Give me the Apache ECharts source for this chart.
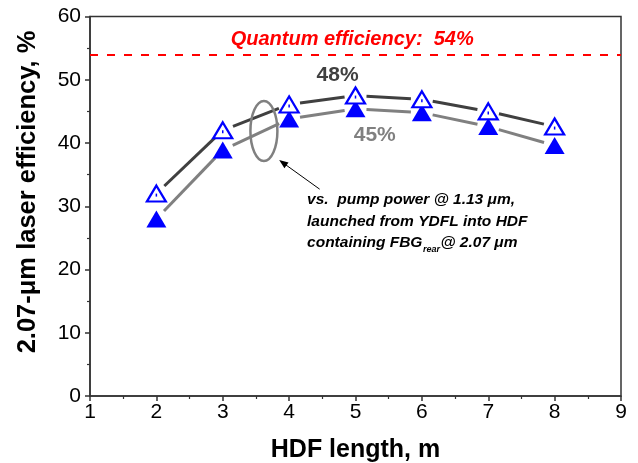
<!DOCTYPE html>
<html>
<head>
<meta charset="utf-8">
<script src="https://cdn.jsdelivr.net/npm/echarts@6/dist/echarts.min.js"></script>
<style>
  html, body { margin: 0; padding: 0; background: #fff; }
  #chart { width: 638px; height: 463px; }
</style>
</head>
<body>
<div id="chart"></div>
<script>
// HDF length (m) and 2.07-um laser efficiency (%) for the two pump definitions
const hdfLength = [2, 3, 4, 5, 6, 7, 8];
const effUpper = [32.0, 42.0, 46.1, 47.5, 46.9, 45.0, 42.6];
const effLower = [28.0, 38.9, 43.8, 45.4, 44.8, 42.6, 39.6];
const quantumEff = 54;
const peakUpperLabel = '48%';
const peakLowerLabel = '45%';
const yTitle = '2.07-\u03bcm laser efficiency, %';
const noteLines = ['vs.  pump power @ 1.13 \u03bcm,', 'launched from YDFL into HDF'];

const FONT = '"Liberation Sans", Arial, sans-serif';
const AXIS_COLOR = '#333';
const BLUE = '#0000ff';
const GAP = 11; // px left open between a line segment and its marker

const points = ys => hdfLength.map((x, i) => [x, ys[i]]);
const segments = ys => {
  const out = [];
  for (let i = 0; i < hdfLength.length - 1; i++) {
    out.push([hdfLength[i], ys[i], hdfLength[i + 1], ys[i + 1]]);
  }
  return out;
};

// Connecting segments that stop short of each marker
function gappedSegment(color) {
  return function (params, api) {
    const p1 = api.coord([api.value(0), api.value(1)]);
    const p2 = api.coord([api.value(2), api.value(3)]);
    const dx = p2[0] - p1[0], dy = p2[1] - p1[1];
    const len = Math.hypot(dx, dy);
    const ux = dx / len, uy = dy / len;
    return {
      type: 'line',
      shape: {
        x1: p1[0] + ux * GAP, y1: p1[1] + uy * GAP,
        x2: p2[0] - ux * GAP, y2: p2[1] - uy * GAP
      },
      style: { stroke: color, lineWidth: 3, lineCap: 'butt' }
    };
  };
}

const chart = echarts.init(document.getElementById('chart'), null, { renderer: 'canvas' });

const axisCommon = {
  type: 'value',
  axisLine: { show: true, onZero: false, lineStyle: { color: AXIS_COLOR, width: 1.5 } },
  axisTick: { show: true, inside: false, length: 5, lineStyle: { color: AXIS_COLOR, width: 1.5 } },
  minorTick: { show: true, splitNumber: 2, length: 3, lineStyle: { color: AXIS_COLOR, width: 1.2 } },
  splitLine: { show: false },
  axisLabel: { color: '#000', fontSize: 21, fontFamily: FONT },
  nameLocation: 'middle',
  nameTextStyle: { color: '#000', fontSize: 25, fontWeight: 'bold', fontFamily: FONT }
};

chart.setOption({
  animation: false,
  backgroundColor: '#fff',
  grid: {
    left: 90, right: 17, top: 16.5, bottom: 67,
    containLabel: false, outerBoundsMode: 'none',
    show: true, borderColor: AXIS_COLOR, borderWidth: 1.5, backgroundColor: 'transparent'
  },
  xAxis: Object.assign({}, axisCommon, {
    min: 1, max: 9, interval: 1,
    name: 'HDF length, m', nameGap: 42,
    axisLabel: Object.assign({}, axisCommon.axisLabel, { margin: 6 })
  }),
  yAxis: Object.assign({}, axisCommon, {
    min: 0, max: 60, interval: 10,
    axisLabel: Object.assign({}, axisCommon.axisLabel, { margin: 9 })
  }),
  series: [
    {
      type: 'custom', name: 'upper-lines', z: 2,
      renderItem: gappedSegment('#404040'),
      encode: { x: [0, 2], y: [1, 3] },
      data: segments(effUpper)
    },
    {
      type: 'custom', name: 'lower-lines', z: 2,
      renderItem: gappedSegment('#808080'),
      encode: { x: [0, 2], y: [1, 3] },
      data: segments(effLower)
    },
    {
      type: 'scatter', name: 'lower', z: 4,
      symbol: 'triangle', symbolSize: [20, 17],
      itemStyle: { color: BLUE, opacity: 1 },
      data: points(effLower),
      markLine: {
        silent: true, symbol: 'none',
        label: { show: false },
        lineStyle: { color: '#ff0000', width: 2, type: [8, 9] },
        data: [{ yAxis: quantumEff }]
      }
    },
    {
      type: 'scatter', name: 'upper', z: 5,
      symbol: 'triangle', symbolSize: [19, 16],
      itemStyle: { color: '#fff', borderColor: BLUE, borderWidth: 2.2, opacity: 1 },
      data: points(effUpper)
    },
    {
      type: 'scatter', name: 'upper-dot', z: 6,
      symbol: 'rect', symbolSize: [1.5, 3], symbolOffset: [0, 1.5],
      itemStyle: { color: BLUE, opacity: 1 },
      data: points(effUpper)
    }
  ]
});

// Annotations placed in data coordinates
const px = (x, y) => chart.convertToPixel({ gridIndex: 0 }, [x, y]);
const measure = (() => {
  const ctx = document.createElement('canvas').getContext('2d');
  return (text, font) => { ctx.font = font; return ctx.measureText(text).width; };
})();

const noteFont = 'italic bold 15.5px ' + FONT;
const subFont = 'italic bold 9px ' + FONT;
const noteX = px(4.27, 0)[0];
const noteY = [px(0, 31.0)[1], px(0, 27.6)[1], px(0, 24.2)[1]];

const graphics = [];

// y-axis title, reading bottom to top
graphics.push({
  type: 'text', x: 28, y: 192, rotation: Math.PI / 2, z: 10,
  style: { text: yTitle, font: 'bold 25.5px ' + FONT, fill: '#000',
           textAlign: 'center', textVerticalAlign: 'middle' }
});

const qPos = px(4.95, 56.4);
graphics.push({
  type: 'text', x: qPos[0], y: qPos[1], z: 10,
  style: { text: 'Quantum efficiency:  ' + quantumEff + '%', font: 'italic bold 20px ' + FONT,
           fill: '#ff0000', textAlign: 'center', textVerticalAlign: 'middle' }
});
const uPos = px(4.73, 50.75);
graphics.push({
  type: 'text', x: uPos[0], y: uPos[1], z: 10,
  style: { text: peakUpperLabel, font: 'bold 21px ' + FONT, fill: '#404040',
           textAlign: 'center', textVerticalAlign: 'middle' }
});
const lPos = px(5.29, 41.2);
graphics.push({
  type: 'text', x: lPos[0], y: lPos[1], z: 10,
  style: { text: peakLowerLabel, font: 'bold 21px ' + FONT, fill: '#808080',
           textAlign: 'center', textVerticalAlign: 'middle' }
});

// ellipse grouping the two curves
const ePos = px(3.62, 41.9);
graphics.push({
  type: 'ellipse', z: 10,
  shape: { cx: ePos[0], cy: ePos[1], rx: 13.5, ry: 30 },
  style: { stroke: '#808080', lineWidth: 2.5, fill: null }
});

// arrow pointing at the ellipse
const aTail = px(4.46, 32.7), aTip = px(3.85, 37.3);
{
  const dx = aTip[0] - aTail[0], dy = aTip[1] - aTail[1];
  const len = Math.hypot(dx, dy), ux = dx / len, uy = dy / len;
  const head = 9, half = 3.5;
  const bx = aTip[0] - ux * head, by = aTip[1] - uy * head;
  graphics.push({
    type: 'line', z: 10,
    shape: { x1: aTail[0], y1: aTail[1], x2: bx + ux * 2, y2: by + uy * 2 },
    style: { stroke: '#000', lineWidth: 1 }
  });
  graphics.push({
    type: 'polygon', z: 10,
    shape: { points: [aTip, [bx - uy * half, by + ux * half], [bx + uy * half, by - ux * half]] },
    style: { fill: '#000' }
  });
}

// note text
noteLines.forEach((t, i) => {
  graphics.push({
    type: 'text', x: noteX, y: noteY[i], z: 10,
    style: { text: t, font: noteFont, fill: '#000', textAlign: 'left', textVerticalAlign: 'middle' }
  });
});
{
  const part1 = 'containing FBG', part2 = 'rear', part3 = '@ 2.07 \u03bcm';
  let x = noteX;
  const y = noteY[2];
  graphics.push({ type: 'text', x: x, y: y, z: 10,
    style: { text: part1, font: noteFont, fill: '#000', textAlign: 'left', textVerticalAlign: 'middle' } });
  x += measure(part1, noteFont) + 0.5;
  graphics.push({ type: 'text', x: x, y: y + 7, z: 10,
    style: { text: part2, font: subFont, fill: '#000', textAlign: 'left', textVerticalAlign: 'middle' } });
  x += measure(part2, subFont) + 0.5;
  graphics.push({ type: 'text', x: x, y: y, z: 10,
    style: { text: part3, font: noteFont, fill: '#000', textAlign: 'left', textVerticalAlign: 'middle' } });
}

chart.setOption({ graphic: { elements: graphics } });
</script>
</body>
</html>
